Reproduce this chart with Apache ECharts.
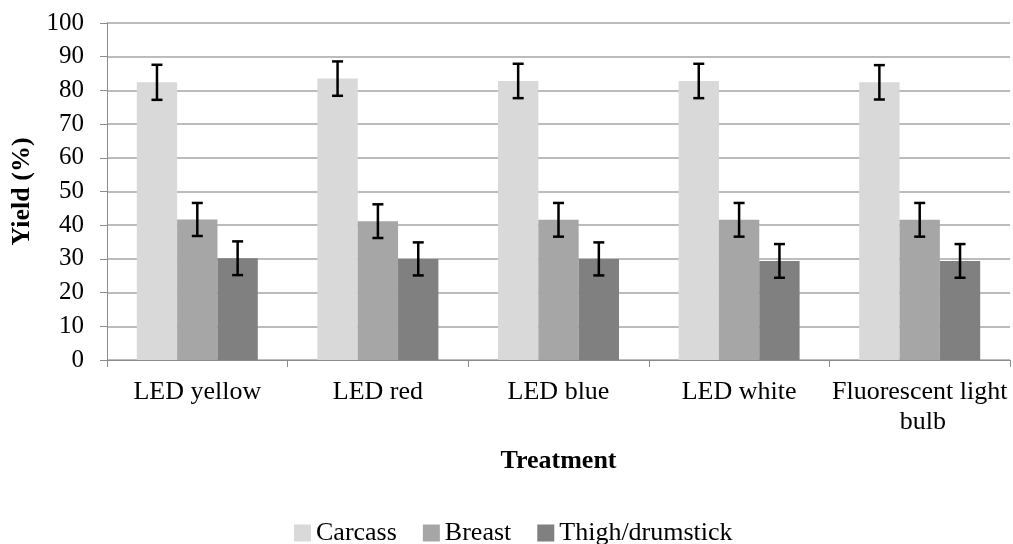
<!DOCTYPE html>
<html>
<head>
<meta charset="utf-8">
<script src="https://cdn.jsdelivr.net/npm/echarts@6/dist/echarts.min.js"></script>
<style>
  html, body { margin: 0; padding: 0; background: #fff; }
  #chart { width: 1013px; height: 544px; }
</style>
</head>
<body>
<div id="chart"></div>
<script>
var treatments = ['LED yellow', 'LED red', 'LED blue', 'LED white', 'Fluorescent light bulb'];
var seriesNames = ['Carcass', 'Breast', 'Thigh/drumstick'];
var carcass = [82.4, 83.5, 82.8, 82.8, 82.4];
var breast = [41.7, 41.2, 41.6, 41.6, 41.6];
var thigh = [30.2, 30.0, 30.0, 29.4, 29.4];
var carcassErr = [5.2, 5.1, 5.1, 5.1, 5.1];
var breastErr = [4.9, 5.0, 5.0, 5.0, 5.0];
var thighErr = [5.0, 4.9, 4.9, 5.0, 5.0];
var colors = ['#d9d9d9', '#a6a6a6', '#808080'];

var font = '"Liberation Serif", "Times New Roman", serif';
var catGap = 0.33;

var chart = echarts.init(document.getElementById('chart'));

// error bars drawn on top of each bar of the group
function errorSeries(idx, values, errs) {
    return {
        type: 'custom',
        name: seriesNames[idx] + ' error',
        z: 10,
        silent: true,
        data: values.map(function (v, i) { return [i, v - errs[i], v + errs[i]]; }),
        renderItem: function (params, api) {
            var catW = api.size([1, 0])[0];
            var barW = catW * (1 - catGap) / 3;
            var lo = api.coord([api.value(0), api.value(1)]);
            var hi = api.coord([api.value(0), api.value(2)]);
            var x = lo[0] + (idx - 1) * barW;
            var half = 5.5;
            var st = { stroke: '#000', lineWidth: 2.5 };
            return {
                type: 'group',
                children: [
                    { type: 'line', shape: { x1: x, y1: hi[1], x2: x, y2: lo[1] }, style: st },
                    { type: 'line', shape: { x1: x - half, y1: hi[1], x2: x + half, y2: hi[1] }, style: st },
                    { type: 'line', shape: { x1: x - half, y1: lo[1], x2: x + half, y2: lo[1] }, style: st }
                ]
            };
        }
    };
}

function barSeries(idx, values) {
    return {
        type: 'bar',
        name: seriesNames[idx],
        data: values,
        barGap: '0%',
        barCategoryGap: (catGap * 100) + '%',
        itemStyle: { color: colors[idx] }
    };
}

var option = {
    animation: false,
    textStyle: { fontFamily: font, color: '#000' },
    grid: { left: 107, right: 1, top: 23, bottom: 184 },
    legend: {
        data: seriesNames,
        left: 294,
        top: 520,
        padding: 0,
        itemWidth: 17,
        itemHeight: 17,
        itemGap: 26,
        icon: 'rect',
        textStyle: { fontFamily: font, fontSize: 26, color: '#000' }
    },
    xAxis: {
        type: 'category',
        data: treatments,
        name: 'Treatment',
        nameLocation: 'middle',
        nameGap: 88,
        nameTextStyle: { fontFamily: font, fontSize: 26, fontWeight: 'bold', color: '#000' },
        axisLine: { lineStyle: { color: '#8c8c8c', width: 1 } },
        axisTick: { show: true, length: 7, lineStyle: { color: '#8c8c8c' } },
        axisLabel: {
            interval: 0,
            margin: 17,
            fontFamily: font,
            fontSize: 26,
            lineHeight: 30,
            color: '#000',
            width: 181,
            overflow: 'break'
        }
    },
    yAxis: {
        type: 'value',
        min: 0,
        max: 100,
        interval: 10,
        name: 'Yield (%)',
        nameLocation: 'middle',
        nameGap: 68,
        nameTextStyle: { fontFamily: font, fontSize: 26, fontWeight: 'bold', color: '#000' },
        axisLine: { show: true, lineStyle: { color: '#8c8c8c', width: 1 } },
        axisTick: { show: true, length: 7, lineStyle: { color: '#8c8c8c' } },
        axisLabel: { margin: 23, fontFamily: font, fontSize: 25, color: '#000' },
        splitLine: { show: true, lineStyle: { color: '#a6a6a6', width: 1.5 } }
    },
    series: [
        barSeries(0, carcass),
        barSeries(1, breast),
        barSeries(2, thigh),
        errorSeries(0, carcass, carcassErr),
        errorSeries(1, breast, breastErr),
        errorSeries(2, thigh, thighErr)
    ]
};

chart.setOption(option);
</script>
</body>
</html>
